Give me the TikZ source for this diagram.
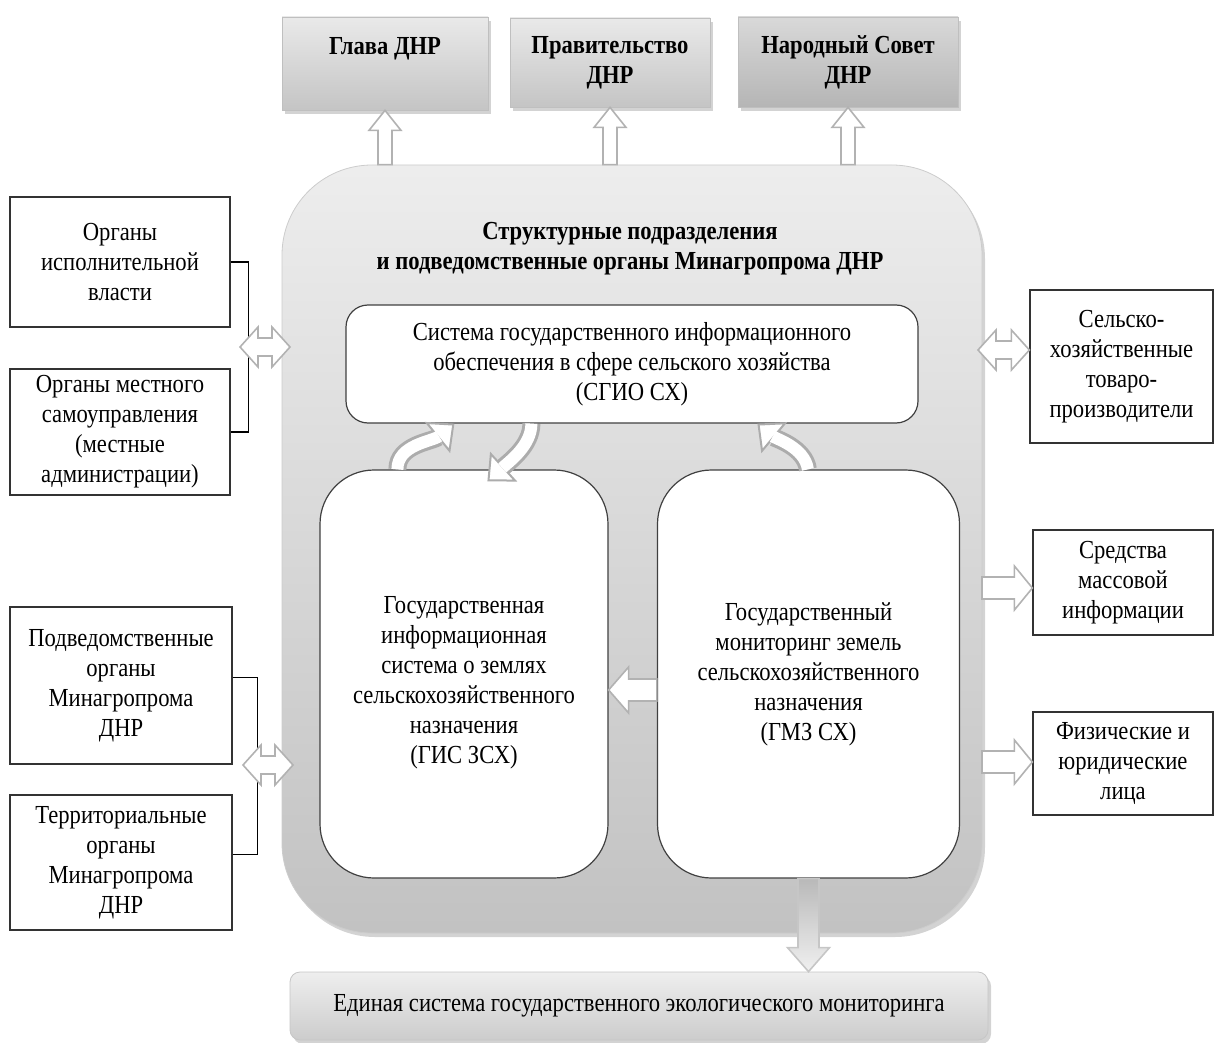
\documentclass[tikz,border=0pt]{standalone}
\usepackage{fontspec}
\setmainfont{Liberation Serif}[FakeStretch=0.87]
\usetikzlibrary{calc,positioning,shadows,arrows.meta}

% block arrow: #2 start, #3 end, #4 half shaft, #5 half head, #6 head length
\newcommand\blockarr[6][]{%
  \draw[blk,#1] ($(#2)!#4!90:(#3)$) -- ($($(#3)!#6!(#2)$)!#4!-90:(#2)$)
    -- ($($(#3)!#6!(#2)$)!#5!-90:(#2)$) -- (#3)
    -- ($($(#3)!#6!(#2)$)!#5!90:(#2)$) -- ($($(#3)!#6!(#2)$)!#4!90:(#2)$)
    -- ($(#2)!#4!-90:(#3)$) -- cycle;}
% double block arrow
\newcommand\dblarr[5]{%
  \draw[blk] (#1) -- ($($(#1)!#5!(#2)$)!#4!90:(#2)$) -- ($($(#1)!#5!(#2)$)!#3!90:(#2)$)
    -- ($($(#2)!#5!(#1)$)!#3!-90:(#1)$) -- ($($(#2)!#5!(#1)$)!#4!-90:(#1)$) -- (#2)
    -- ($($(#2)!#5!(#1)$)!#4!90:(#1)$) -- ($($(#2)!#5!(#1)$)!#3!90:(#1)$)
    -- ($($(#1)!#5!(#2)$)!#3!-90:(#2)$) -- ($($(#1)!#5!(#2)$)!#4!-90:(#2)$) -- cycle;}
% curved arrow
\newcommand\curvarr[4]{%
  \draw[cbody] (#1) .. controls +(#2) and +(#3) .. (#4);
  \draw[cinner] (#1) .. controls +(#2) and +(#3) .. (#4);}

\tikzset{
  every node/.style={font=\fontsize{13}{15}\selectfont, align=center},
  shade/.style={drop shadow={opacity=0.35,shadow xshift=1.5pt,shadow yshift=-2pt}},
  topbox/.style={draw=gray!50, top color=gray!17, bottom color=gray!46, shade,
    font=\fontsize{13}{15}\selectfont\bfseries},
  sidebox/.style={draw=black!80, fill=white, line width=0.6pt},
  inbox/.style={draw=black!75, fill=white, line width=0.6pt},
  blk/.style={draw=gray!60, fill=white, line width=0.8pt},
  brk/.style={black, line width=0.8pt},
  cbody/.style={draw=gray!65, line width=9pt,
    -{Triangle[length=11pt,width=20pt,line width=1pt,fill=white]}},
  cinner/.style={draw=white, line width=6pt, shorten >=10pt},
}

\begin{document}
\begin{tikzpicture}[x=0.5pt,y=-0.5pt]
\useasboundingbox (0,0) rectangle (1215,1043);

% top row
\node[topbox, minimum width=103pt, minimum height=46.5pt] (glava) at (385,63.5) {Глава ДНР\\\phantom{Д}};
\node[topbox, minimum width=100pt, minimum height=44.5pt] (prav) at (610,62.5) {Правительство\\ДНР};
\node[topbox, top color=gray!30, bottom color=gray!58, minimum width=110pt, minimum height=45pt] (narod) at (848,62) {Народный Совет\\ДНР};

% main block
\node[draw=gray!40, top color=gray!14, bottom color=gray!48, rounded corners=45pt,
  minimum width=350pt, minimum height=384pt, shade] (main) at (632,549) {};
\node[font=\fontsize{13}{15}\selectfont\bfseries] (title) at (630,249)
  {Структурные подразделения\\и подведомственные органы Минагропрома ДНР};

\node[inbox, rounded corners=11pt, minimum width=286pt, minimum height=59pt] (sgio) at (632,364)
  {Система государственного информационного\\обеспечения в сфере сельского хозяйства\\(СГИО СХ)};
\node[inbox, rounded corners=27pt, minimum width=144pt, minimum height=204pt] (gis) at (464,674) {};
\node (gistxt) at ([yshift=-4.5pt]gis.center)
  {Государственная\\информационная\\система о землях\\сельскохозяйственного\\назначения\\(ГИС ЗСХ)};
\node[inbox, rounded corners=27pt, minimum width=151pt, minimum height=204pt] (gmz) at (808.5,674)
  {Государственный\\мониторинг земель\\сельскохозяйственного\\назначения\\(ГМЗ СХ)};

% bottom
\node[draw=gray!45, top color=gray!13, bottom color=gray!40, rounded corners=5pt,
  minimum width=349pt, minimum height=34pt, shade] (eco) at (639,1006)
  {Единая система государственного экологического мониторинга};

% left
\node[sidebox, minimum width=110pt, minimum height=65pt] (org1) at (120,262) {Органы\\исполнительной\\власти};
\node[sidebox, minimum width=110pt, minimum height=60pt] (org2) at (120,432) {Органы местного\\самоуправления\\(местные\\администрации)};
\node[sidebox, minimum width=111pt, minimum height=78.5pt] (podv) at (121,685.5) {Подведомственные\\органы\\Минагропрома\\ДНР};
\node[sidebox, minimum width=111pt, minimum height=67.5pt] (terr) at (121,862.5) {Территориальные\\органы\\Минагропрома\\ДНР};

% right
\node[sidebox, minimum width=91.5pt, minimum height=76.5pt] (prod) at (1121.5,366.5) {Сельско-\\хозяйственные\\товаро-\\производители};
\node[sidebox, minimum width=90pt, minimum height=52.5pt] (smi) at (1123,582.5) {Средства\\массовой\\информации};
\node[sidebox, minimum width=90pt, minimum height=51.5pt] (fiz) at (1123,763.5) {Физические и\\юридические\\лица};

% brackets
\draw[brk] (org1.east) -- ++(18,0) |- (org2.east);
\draw[brk] ([yshift=4pt]podv.east) -- ++(25,0) |- ([yshift=4pt]terr.east);

% arrow ends
\coordinate (u1) at (main.north -| glava.south);
\coordinate (u2) at (main.north -| prav.south);
\coordinate (u3) at (main.north -| narod.south);
\coordinate (dl1) at (240,347);
\coordinate (dr1) at (290,347);
\coordinate (dl2) at (243,765);
\coordinate (dr2) at (293,765);
\coordinate (dl3) at (978,350);
\coordinate (dr3) at (prod.west |- dl3);
\coordinate (s1) at (982,588);
\coordinate (s2) at (smi.west |- s1);
\coordinate (f1) at (982,762);
\coordinate (f2) at (fiz.west |- f1);
\coordinate (m1) at (gmz.west |- 0,690);
\coordinate (m2) at (gis.east |- 0,690);

\blockarr{u1}{glava.south}{3.5pt}{8pt}{10pt}
\blockarr{u2}{prav.south}{3.5pt}{8pt}{10pt}
\blockarr{u3}{narod.south}{3.5pt}{8pt}{10pt}
\dblarr{dl1}{dr1}{4.5pt}{10pt}{9pt}
\dblarr{dl2}{dr2}{4.5pt}{10pt}{9pt}
\dblarr{dl3}{dr3}{4.5pt}{10pt}{9pt}
\blockarr{s1}{s2}{5.5pt}{11pt}{9pt}
\blockarr{f1}{f2}{5.5pt}{11pt}{9pt}
\blockarr{m1}{m2}{5.5pt}{11.5pt}{10pt}
\blockarr[draw=gray!45, top color=gray!55, bottom color=gray!12]{gmz.south}{eco.north -| gmz.south}{5.25pt}{10.5pt}{12pt}

% curved arrows
\coordinate (ca1) at ([xshift=39pt]gis.north west);
\coordinate (ca2) at ([xshift=54.5pt]sgio.south west);
\coordinate (cb1) at ([xshift=93pt]sgio.south west);
\coordinate (cb2) at ([xshift=84pt,yshift=-6pt]gis.north west);
\coordinate (cc1) at ([xshift=75.5pt]gmz.north west);
\coordinate (cc2) at ([xshift=206pt]sgio.south west);
\curvarr{ca1}{0,-25}{-22,18}{ca2}
\curvarr{cb1}{0,22}{22,-20}{cb2}
\curvarr{cc1}{-3,-22}{18,15}{cc2}
\end{tikzpicture}
\end{document}
